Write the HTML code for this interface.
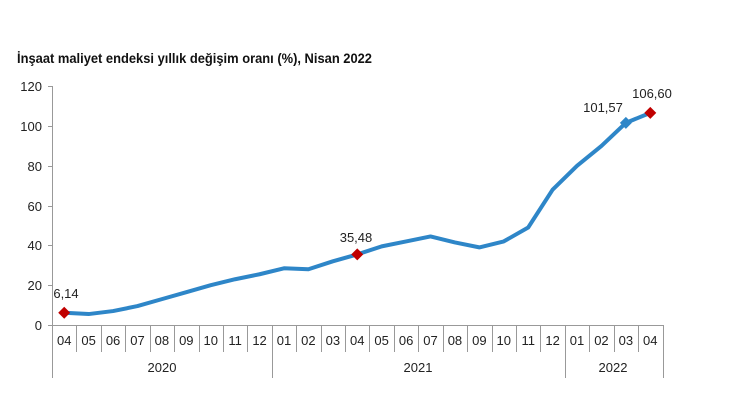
<!DOCTYPE html>
<html><head><meta charset="utf-8"><style>
body{margin:0;background:#fff;}
svg{display:block;font-family:"Liberation Sans",Arial,sans-serif;}
</style></head><body>
<svg width="730" height="420" viewBox="0 0 730 420" xmlns="http://www.w3.org/2000/svg">
<rect width="730" height="420" fill="#fff"/>
<text x="17" y="63" font-size="14" font-weight="bold" fill="#111" textLength="355" lengthAdjust="spacingAndGlyphs">İnşaat maliyet endeksi yıllık değişim oranı (%), Nisan 2022</text>
<g stroke="#999" stroke-width="1" fill="none">
<line x1="52.5" y1="86" x2="52.5" y2="378"/>
<line x1="52" y1="325.5" x2="663" y2="325.5"/>
<line x1="48" y1="86.5" x2="52" y2="86.5"/>
<line x1="48" y1="126.5" x2="52" y2="126.5"/>
<line x1="48" y1="166.5" x2="52" y2="166.5"/>
<line x1="48" y1="206.5" x2="52" y2="206.5"/>
<line x1="48" y1="245.5" x2="52" y2="245.5"/>
<line x1="48" y1="285.5" x2="52" y2="285.5"/>
<line x1="48" y1="325.5" x2="52" y2="325.5"/>
<g id="seps"></g>
</g>
<g font-size="13" fill="#222" text-anchor="end">
<text x="42" y="91">120</text><text x="42" y="131">100</text><text x="42" y="171">80</text>
<text x="42" y="211">60</text><text x="42" y="250">40</text><text x="42" y="290">20</text><text x="42" y="330">0</text>
</g>
<g id="cats" font-size="13" fill="#222" text-anchor="middle"></g>
<g font-size="13" fill="#222" text-anchor="middle">
<text x="162" y="372">2020</text><text x="418" y="372">2021</text><text x="613" y="372">2022</text>
</g>
<polyline id="ln" fill="none" stroke="#2e86c8" stroke-width="4" stroke-linejoin="round" stroke-linecap="round"/>
<g id="mk"></g>
<g font-size="13" fill="#222" text-anchor="middle">
<text x="66" y="298">6,14</text>
<text x="356" y="242">35,48</text>
<text x="603" y="112">101,57</text>
<text x="652" y="98">106,60</text>
</g>
<script>
var v=[6.14,5.5,7,9.5,13,16.5,20,23,25.5,28.5,28,32,35.48,39.5,42,44.5,41.5,39,42,49,68,80,90,101.57,106.6];
var lab=["04","05","06","07","08","09","10","11","12","01","02","03","04","05","06","07","08","09","10","11","12","01","02","03","04"];
var sp=24.42,x0=52,ns="http://www.w3.org/2000/svg";
function X(i){return x0+sp*(i+0.5);}function Y(t){return 325-t*1.99;}
document.getElementById('ln').setAttribute('points',v.map(function(t,i){return X(i)+','+Y(t)}).join(' '));
var c=document.getElementById('cats'),s=document.getElementById('seps');
for(var i=0;i<25;i++){var t=document.createElementNS(ns,'text');t.setAttribute('x',X(i));t.setAttribute('y',345);t.textContent=lab[i];c.appendChild(t);}
for(var i=1;i<=25;i++){var xx=Math.round(x0+sp*i)+0.5;var big=(i==9||i==21||i==25);var l=document.createElementNS(ns,'line');l.setAttribute('x1',xx);l.setAttribute('x2',xx);l.setAttribute('y1',325);l.setAttribute('y2',big?378:352);s.appendChild(l);}
var m=document.getElementById('mk');
[[0,'#c00000'],[12,'#c00000'],[23,'#2e86c8'],[24,'#c00000']].forEach(function(p){var x=X(p[0]),y=Y(v[p[0]]),d=6;var g=document.createElementNS(ns,'polygon');g.setAttribute('points',(x)+','+(y-d)+' '+(x+d)+','+y+' '+x+','+(y+d)+' '+(x-d)+','+y);g.setAttribute('fill',p[1]);m.appendChild(g);});
</script>
</svg>
</body></html>
